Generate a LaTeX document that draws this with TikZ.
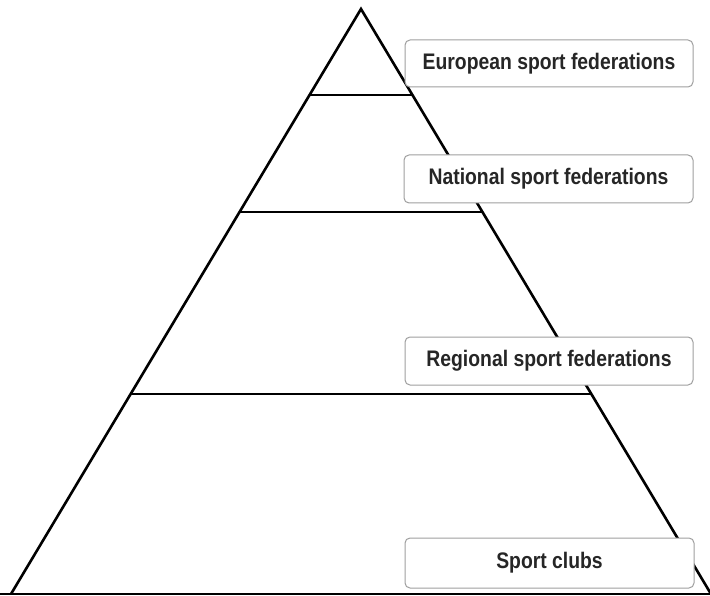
\documentclass[tikz,border=0pt]{standalone}
\usepackage{fontspec}
\setmainfont{Liberation Sans}
\usetikzlibrary{calc}
\begin{document}
\begin{tikzpicture}[x=1pt,y=-1pt,
  tri/.style={line width=2.6pt,black,line join=miter},
  lvl/.style={line width=2.6pt,black},
  lab/.style={draw=gray!75,line width=1pt,fill=white,rounded corners=5pt,inner sep=0pt,
    font=\fontsize{22.5}{26}\selectfont\bfseries,text=black!85}]
\useasboundingbox (0,0) rectangle (710,596);
\coordinate (A) at (361,9);
\coordinate (L) at (11,594);
\coordinate (R) at (711,594);
\draw[tri] (L) -- (A) -- (R);
\draw[lvl] (0,594) -- (710,594);
\coordinate (l1) at ($(A)!86/585!(L)$);
\coordinate (r1) at ($(A)!86/585!(R)$);
\coordinate (l2) at ($(A)!203/585!(L)$);
\coordinate (r2) at ($(A)!203/585!(R)$);
\coordinate (l3) at ($(A)!385/585!(L)$);
\coordinate (r3) at ($(A)!385/585!(R)$);
\draw[lvl] (l1) -- (r1);
\draw[lvl] (l2) -- (r2);
\draw[lvl] (l3) -- (r3);
\node[lab,minimum width=288pt,minimum height=47pt] (b1) at (549,63.5) {\scalebox{0.86}[1]{European sport federations}};
\node[lab,minimum width=289pt,minimum height=48pt] (b2) at (548.5,179) {\scalebox{0.86}[1]{National sport federations}};
\node[lab,minimum width=288pt,minimum height=48pt] (b3) at (549,361) {\scalebox{0.86}[1]{Regional sport federations}};
\node[lab,minimum width=289pt,minimum height=50pt] (b4) at (549.5,563) {\scalebox{0.86}[1]{Sport clubs}};
\end{tikzpicture}
\end{document}
